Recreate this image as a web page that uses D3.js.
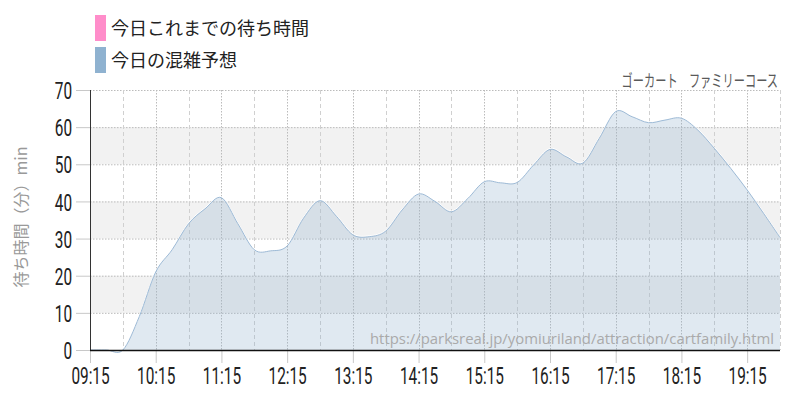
<!DOCTYPE html>
<html><head><meta charset="utf-8">
<script src="https://cdn.jsdelivr.net/npm/d3@7"></script>
<style>
html,body{margin:0;padding:0;background:#fff;}
svg{display:block;}
</style></head>
<body>
<svg id="chart" width="800" height="400"></svg>
<script>
// ---- data ----
const times = ["09:15","09:30","09:45","10:00","10:15","10:30","10:45","11:00","11:15","11:30","11:45","12:00","12:15","12:30","12:45","13:00","13:15","13:30","13:45","14:00","14:15","14:30","14:45","15:00","15:15","15:30","15:45","16:00","16:15","16:30","16:45","17:00","17:15","17:30","17:45","18:00","18:15","18:30","18:45","19:00","19:15","19:30","19:45"];
const forecast = [0,0,0,9,21,27,34,38,41,34,27,26.7,28,35.5,40.2,36,31,30.5,32,37.7,42,40,37.2,40.8,45.3,45,45.1,49.8,54,52,50.3,57,64.2,62.8,61.2,61.9,62.4,59.2,54.3,48.9,43.1,36.8,30.3];
const waitToday = []; // 今日これまでの待ち時間 (no data yet)
const xTickLabels = ["09:15","10:15","11:15","12:15","13:15","14:15","15:15","16:15","17:15","18:15","19:15"];
const halfHourLines = ["09:45","10:45","11:45","12:45","13:45","14:45","15:45","16:45","17:45","18:45","19:45"];
const yTicks = [0,10,20,30,40,50,60,70];
const grayBands = [[10,20],[30,40],[50,60]];
const legendItems = [{label:"今日これまでの待ち時間", color:"#ff8dca"},{label:"今日の混雑予想", color:"#8fb2d0"}];
const titleText = "ゴーカート　ファミリーコース";
const yTitle = "待ち時間（分）min";
const sourceUrl = "https://parksreal.jp/yomiuriland/attraction/cartfamily.html";

// ---- layout ----
const L = 90, R = 780, T = 90, B = 350;
const toMin = s => { const [h,m] = s.split(":").map(Number); return h*60+m; };
const svg = d3.select("#chart");
const x = d3.scaleLinear().domain([toMin(times[0]), toMin(times[times.length-1])]).range([L,R]);
const y = d3.scaleLinear().domain([0,70]).range([B,T]);
const jp = "'Noto Sans CJK JP','Noto Sans',sans-serif";
const cond = "Roboto,'Liberation Sans',sans-serif";
const sx = 0.64;

// bands
svg.append("g").selectAll("rect").data(grayBands).join("rect")
  .attr("x", L).attr("width", R-L)
  .attr("y", d => y(d[1])).attr("height", d => y(d[0]) - y(d[1]))
  .attr("fill", "#f2f2f2");

// horizontal grid (dotted)
svg.append("g").selectAll("line").data(yTicks.filter(v => v>0)).join("line")
  .attr("x1", L).attr("x2", R).attr("y1", d => y(d)+0.5).attr("y2", d => y(d)+0.5)
  .attr("stroke", "#bbb").attr("stroke-width", 1).attr("stroke-dasharray", "1.5,1.5");

// vertical grid: dotted at hour ticks, dashed at half hours
svg.append("g").selectAll("line").data(xTickLabels.slice(1)).join("line")
  .attr("x1", d => Math.round(x(toMin(d)))+0.5).attr("x2", d => Math.round(x(toMin(d)))+0.5)
  .attr("y1", T).attr("y2", B)
  .attr("stroke", "#bbb").attr("stroke-dasharray", "1.5,1.5");
svg.append("g").selectAll("line").data(halfHourLines).join("line")
  .attr("x1", d => Math.round(x(toMin(d)))+0.5).attr("x2", d => Math.round(x(toMin(d)))+0.5)
  .attr("y1", T).attr("y2", B)
  .attr("stroke", "#d0d0d0").attr("stroke-dasharray", "4,3");

// area + line
const pts = times.map((t,i) => ({t: toMin(t), v: forecast[i]}));
const curve = d3.curveCardinal.tension(0);
const area = d3.area().x(d => x(d.t)).y0(y(0)).y1(d => y(d.v)).curve(curve);
const line = d3.line().x(d => x(d.t)).y(d => y(d.v)).curve(curve);
svg.append("path").datum(pts).attr("d", area).attr("fill", "rgba(143,176,206,0.28)");
svg.append("path").datum(pts).attr("d", line).attr("fill", "none")
  .attr("stroke", "#ffffff").attr("stroke-width", 1).attr("transform", "translate(0,-1)");
svg.append("path").datum(pts).attr("d", line).attr("fill", "none")
  .attr("stroke", "#9dbad6").attr("stroke-width", 1);

// pink series (empty)
const wpts = waitToday.map((v,i) => ({t: toMin(times[i]), v}));
if (wpts.length) svg.append("path").datum(wpts).attr("d", line).attr("fill","none").attr("stroke","#ff8dca").attr("stroke-width",2);

// x axis
const xAxis = d3.axisBottom(x).tickValues(xTickLabels.map(toMin))
  .tickFormat((d,i) => xTickLabels[i]).tickSize(13).tickSizeOuter(0);
const gx = svg.append("g").attr("transform", `translate(0,${B})`).call(xAxis);
gx.select(".domain").remove();
gx.selectAll(".tick line").attr("stroke", "#c8c8c8");
gx.selectAll(".tick text").attr("y", 34).attr("dy", 0)
  .attr("font-family", cond).attr("font-size", 24).attr("fill", "#222")
  .attr("transform", `scale(${sx},1)`);

// y axis
const yAxis = d3.axisLeft(y).tickValues(yTicks).tickSize(14).tickSizeOuter(0);
const gy = svg.append("g").attr("transform", `translate(${L},0)`).call(yAxis);
gy.select(".domain").remove();
gy.selectAll(".tick line").attr("stroke", "#c8c8c8");
gy.selectAll(".tick text").attr("x", -18/sx).attr("dy", "0.36em")
  .attr("font-family", cond).attr("font-size", 24).attr("fill", "#222")
  .attr("transform", `scale(${sx},1)`);

// axis lines
svg.append("line").attr("x1", L+0.5).attr("x2", L+0.5).attr("y1", T).attr("y2", B+1)
  .attr("stroke", "#333").attr("stroke-width", 1);
svg.append("line").attr("x1", L).attr("x2", R).attr("y1", B+0.5).attr("y2", B+0.5)
  .attr("stroke", "#111").attr("stroke-width", 1.5);

// y title
svg.append("text").attr("transform", "translate(27,217) rotate(-90)")
  .attr("text-anchor", "middle").attr("font-family", jp).attr("font-size", 16)
  .attr("fill", "#999").text(yTitle);

// chart title (top right)
svg.append("text").attr("transform", "translate(778,87) scale(0.66,1)").attr("text-anchor", "end")
  .attr("font-family", jp).attr("font-size", 17).attr("fill", "#5a5a5a").text(titleText);

// legend
const lg = svg.append("g").selectAll("g").data(legendItems).join("g")
  .attr("transform", (d,i) => `translate(95,${15+i*32})`);
lg.append("rect").attr("width", 11).attr("height", 26).attr("fill", d => d.color);
lg.append("text").attr("x", 16).attr("y", 20).attr("font-family", jp).attr("font-size", 18)
  .attr("fill", "#222").text(d => d.label);

// source watermark
svg.append("text").attr("x", 774).attr("y", 344).attr("text-anchor", "end")
  .attr("font-family", "'Open Sans','Noto Sans',sans-serif").attr("font-size", 15)
  .attr("fill", "#aaa").attr("textLength", 404).attr("lengthAdjust", "spacingAndGlyphs")
  .text(sourceUrl);
</script>
</body></html>
